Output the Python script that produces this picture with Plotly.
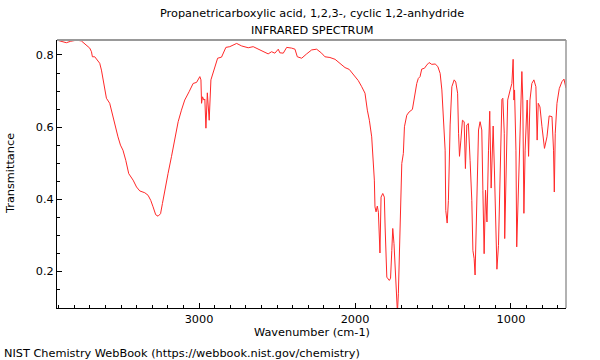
import plotly.graph_objects as go

# Infrared spectrum (wavenumber in cm-1, transmittance)
wavenumber = [
    3911, 3881, 3851, 3823, 3785, 3755, 3722, 3701, 3690, 3684, 3669, 3648, 3637, 3626,
    3616, 3605, 3594, 3573, 3552, 3541, 3530, 3520, 3504, 3488, 3470, 3451, 3423, 3401,
    3380, 3348, 3327, 3310, 3295, 3278, 3263, 3247, 3235, 3220, 3199, 3177, 3156, 3134,
    3113, 3092, 3064, 3038, 3016, 3006, 2995,
    2988, 2984, 2978, 2969, 2963, 2956, 2947, 2935, 2924, 2905, 2881, 2856, 2828, 2803,
    2759, 2727, 2685, 2653, 2621, 2589, 2557, 2535, 2514, 2492, 2482, 2460, 2438, 2406,
    2385, 2370, 2342, 2310, 2278, 2246, 2214, 2193, 2161, 2128, 2096, 2064, 2037, 2011,
    1979, 1957, 1936, 1921, 1908, 1893, 1883, 1876, 1872, 1865, 1857, 1850, 1840, 1833,
    1822, 1812, 1807, 1796, 1780, 1772, 1764, 1758, 1750, 1737, 1728, 1722, 1716, 1707,
    1700, 1690, 1683, 1668, 1653, 1632, 1619, 1604, 1594, 1583, 1572, 1555, 1540, 1525,
    1508, 1486, 1469, 1454, 1443, 1435, 1427, 1422, 1418, 1409, 1401, 1390, 1379, 1364,
    1354, 1342, 1336, 1330, 1321, 1311, 1300, 1292, 1283, 1273, 1262, 1251, 1244, 1236,
    1230, 1219, 1208, 1198, 1187, 1180, 1172, 1163, 1154, 1144, 1136, 1127, 1114, 1106,
    1097, 1090, 1080, 1069, 1058, 1052, 1043, 1040, 1031, 1021, 1005, 994, 986, 981,
    977, 968, 963, 952, 941, 930, 924, 917, 909, 896, 887, 878, 866, 853,
    840, 832, 825, 814, 801, 785, 769, 755, 737, 727, 722, 716, 705, 690,
    673, 660, 647,
]
transmittance = [
    0.841, 0.838, 0.834, 0.838, 0.841, 0.839, 0.828, 0.819, 0.809, 0.795, 0.795, 0.783, 0.777, 0.758,
    0.731, 0.703, 0.680, 0.666, 0.629, 0.606, 0.592, 0.573, 0.550, 0.536, 0.508, 0.471, 0.453, 0.434,
    0.423, 0.418, 0.411, 0.397, 0.379, 0.357, 0.353, 0.360, 0.388, 0.425, 0.471, 0.518, 0.564, 0.615,
    0.647, 0.675, 0.698, 0.721, 0.724, 0.731, 0.740,
    0.731, 0.666, 0.684, 0.675, 0.678, 0.597, 0.695, 0.619, 0.731, 0.758, 0.791, 0.794, 0.821, 0.823,
    0.832, 0.825, 0.820, 0.823, 0.816, 0.809, 0.803, 0.809, 0.805, 0.816, 0.806, 0.805, 0.821, 0.819,
    0.816, 0.795, 0.791, 0.803, 0.814, 0.816, 0.805, 0.795, 0.793, 0.788, 0.777, 0.765, 0.760, 0.747,
    0.729, 0.712, 0.694, 0.647, 0.619, 0.573, 0.518, 0.453, 0.379, 0.365, 0.381, 0.364, 0.251, 0.406,
    0.416, 0.406, 0.323, 0.184, 0.175, 0.181, 0.258, 0.319, 0.277, 0.147, 0.086, 0.138, 0.258, 0.434,
    0.499, 0.527, 0.601, 0.633, 0.642, 0.649, 0.683, 0.721, 0.735, 0.740, 0.761, 0.763, 0.772, 0.779,
    0.774, 0.775, 0.768, 0.749, 0.703, 0.647, 0.583, 0.536, 0.369, 0.334, 0.397, 0.606, 0.712, 0.731,
    0.725, 0.694, 0.583, 0.519, 0.564, 0.619, 0.615, 0.485, 0.606, 0.610, 0.508, 0.397, 0.258, 0.235,
    0.190, 0.369, 0.592, 0.615, 0.592, 0.425, 0.249, 0.425, 0.337, 0.536, 0.644, 0.431, 0.603, 0.481,
    0.305, 0.206, 0.272, 0.490, 0.677, 0.680, 0.583, 0.291, 0.508, 0.675, 0.703, 0.721, 0.788, 0.675,
    0.703, 0.536, 0.268, 0.444, 0.629, 0.754, 0.675, 0.361, 0.536, 0.675, 0.519, 0.675, 0.721, 0.731,
    0.712, 0.564, 0.666, 0.656, 0.601, 0.541, 0.573, 0.631, 0.629, 0.536, 0.420, 0.583, 0.666, 0.707,
    0.726, 0.733, 0.708,
]

x_range = [3911, 647]
y_range = [0.0985, 0.8415]
x_tick_vals = [3000, 2000, 1000]
y_tick_vals = [0.2, 0.4, 0.6, 0.8]

title_line1 = "Propanetricarboxylic acid, 1,2,3-, cyclic 1,2-anhydride"
title_line2 = "INFRARED SPECTRUM"
x_title = "Wavenumber (cm-1)"
y_title = "Transmittance"
footer = "NIST Chemistry WebBook (https://webbook.nist.gov/chemistry)"

FONT = "DejaVu Sans"
TXT = 11.3

fig = go.Figure()
fig.add_trace(go.Scatter(
    x=wavenumber, y=transmittance, mode="lines",
    line=dict(color="rgb(255,40,40)", width=1),
    hoverinfo="skip", showlegend=False,
))

fig.update_layout(
    width=600, height=360,
    margin=dict(l=57, r=34, t=40, b=52),
    paper_bgcolor="white", plot_bgcolor="white",
    font=dict(family=FONT, size=12, color="black"),
    showlegend=False,
    xaxis=dict(
        range=x_range, tickvals=x_tick_vals, ticktext=[str(v) for v in x_tick_vals],
        ticks="inside", ticklen=5, tickwidth=1, tickcolor="black",
        minor=dict(dtick=100, ticks="inside", ticklen=3, tickcolor="black", showgrid=False),
        showline=True, linecolor="black", linewidth=1,
        showgrid=False, zeroline=False,
        tickfont=dict(family=FONT, size=TXT, color="black"),
    ),
    yaxis=dict(
        range=y_range, tickvals=y_tick_vals, ticktext=[f"{v:.1f}" for v in y_tick_vals],
        ticks="inside", ticklen=5, tickwidth=1, tickcolor="black",
        minor=dict(dtick=0.05, tick0=0, ticks="inside", ticklen=3, tickcolor="black", showgrid=False),
        showline=True, linecolor="black", linewidth=1,
        showgrid=False, zeroline=False,
        tickfont=dict(family=FONT, size=TXT, color="black"),
    ),
    shapes=[
        dict(type="line", xref="paper", yref="paper", x0=0, x1=1, y0=1, y1=1,
             line=dict(color="#999999", width=2)),
        dict(type="line", xref="paper", yref="paper", x0=1, x1=1, y0=0, y1=1,
             line=dict(color="#999999", width=1.5)),
    ],
    annotations=[
        dict(text=title_line1, xref="paper", yref="paper", x=0.5, y=1, yshift=27,
             xanchor="center", yanchor="middle", showarrow=False,
             font=dict(family=FONT, size=TXT, color="black")),
        dict(text=title_line2, xref="paper", yref="paper", x=0.5, y=1, yshift=10,
             xanchor="center", yanchor="middle", showarrow=False,
             font=dict(family=FONT, size=TXT, color="black")),
        dict(text=x_title, xref="paper", yref="paper", x=0.5, y=0, yshift=-24,
             xanchor="center", yanchor="middle", showarrow=False,
             font=dict(family=FONT, size=TXT, color="black")),
        dict(text=y_title, xref="paper", yref="paper", x=0, xshift=-47, y=0.5,
             xanchor="center", yanchor="middle", textangle=-90, showarrow=False,
             font=dict(family=FONT, size=TXT, color="black")),
        dict(text=footer, xref="paper", yref="paper", x=0, xshift=-55, y=0, yshift=-45,
             xanchor="left", yanchor="middle", showarrow=False,
             font=dict(family=FONT, size=TXT, color="black")),
    ],
)

fig.write_html("out.html", config={"displayModeBar": False},
               post_script="document.body.style.margin='0';")
